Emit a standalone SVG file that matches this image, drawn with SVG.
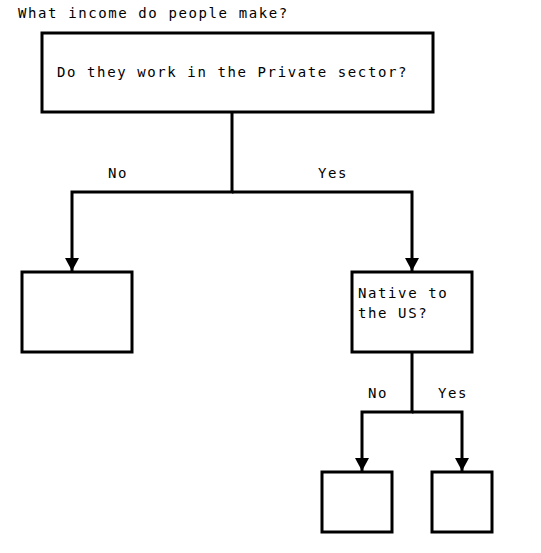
<svg xmlns="http://www.w3.org/2000/svg" width="541" height="553" viewBox="0 0 541 553">
<style>
.box{fill:#fff;stroke:#000;stroke-width:3}
.conn{fill:none;stroke:#000;stroke-width:3}
text{font-family:"DejaVu Sans Mono","Liberation Mono",monospace;font-size:14px;letter-spacing:1.6px;fill:#000}
</style>
<defs>
<marker id="arrow" markerUnits="userSpaceOnUse" markerWidth="16" markerHeight="16" viewBox="0 0 16 16" refX="14" refY="8" orient="auto">
<path d="M1,1 L14,8 L1,15 Z" fill="#000"/>
</marker>
</defs>
<rect width="541" height="553" fill="#fff"/>
<text x="18" y="18">What income do people make?</text>
<g id="connectors">
<path class="conn" d="M232,112 V192 H72 V271" marker-end="url(#arrow)"/>
<path class="conn" d="M232,192 H412 V271" marker-end="url(#arrow)"/>
<path class="conn" d="M412,352 V412 H362 V471" marker-end="url(#arrow)"/>
<path class="conn" d="M412,412 H462 V471" marker-end="url(#arrow)"/>
<text x="108" y="178">No</text>
<text x="318" y="178">Yes</text>
<text x="368" y="398">No</text>
<text x="438" y="398">Yes</text>
</g>
<g id="root">
<rect class="box" x="42" y="33" width="391" height="79"/>
<text x="57" y="77">Do they work in the Private sector?</text>
</g>
<g id="private-no">
<rect class="box" x="22" y="272" width="110" height="80"/>
</g>
<g id="native">
<rect class="box" x="352" y="272" width="120" height="80"/>
<text x="358" y="298">Native to</text>
<text x="358" y="318">the US?</text>
</g>
<g id="native-no">
<rect class="box" x="322" y="472" width="70" height="60"/>
</g>
<g id="native-yes">
<rect class="box" x="432" y="472" width="60" height="60"/>
</g>
</svg>
